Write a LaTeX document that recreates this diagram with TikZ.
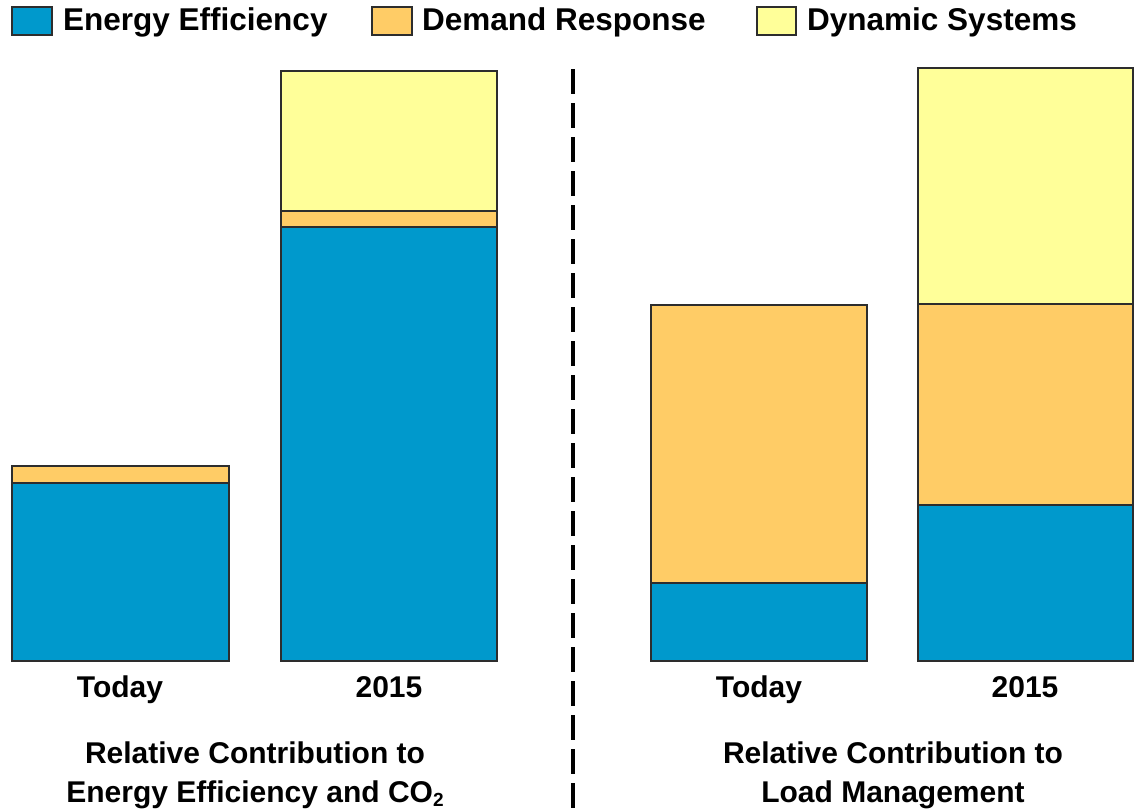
\documentclass[tikz,border=0pt]{standalone}
\usepackage{fontspec}
\setmainfont{Liberation Sans}
\usetikzlibrary{positioning}
\definecolor{effblue}{RGB}{0,153,204}
\definecolor{demorange}{RGB}{255,204,102}
\definecolor{dynyellow}{RGB}{255,255,153}
\definecolor{edgegray}{RGB}{45,45,45}

\begin{document}
\begin{tikzpicture}[x=1pt, y=-1pt, font=\bfseries\fontsize{30}{36}\selectfont,
    seg/.style = {draw=edgegray, line width=1.3pt},
    eff/.style = {seg, fill=effblue},
    dem/.style = {seg, fill=demorange},
    dyn/.style = {seg, fill=dynyellow},
    lbl/.style = {inner sep=0pt, anchor=base},
    key/.style = {inner sep=0pt, anchor=base west, font=\bfseries\fontsize{31.5}{36}\selectfont}
    ]
\useasboundingbox (0,0) rectangle (1135,811);

% legend
\draw[eff] (12,7) rectangle (52,35);
\node[key] (k1) at (63,30) {Energy Efficiency};
\draw[dem] (372,7) rectangle (412,35);
\node[key] (k2) at (422,30) {Demand Response};
\draw[dyn] (757,7) rectangle (796,35);
\node[key] (k3) at (807,30) {Dynamic Systems};

% left chart
\draw[eff] (12,483) rectangle (229,661);
\draw[dem] (12,466) rectangle (229,483);
\draw[eff] (281,227) rectangle (497,661);
\draw[dem] (281,211) rectangle (497,227);
\draw[dyn] (281,71) rectangle (497,211);

% right chart
\draw[eff] (651,583) rectangle (867,661);
\draw[dem] (651,305) rectangle (867,583);
\draw[eff] (918,505) rectangle (1133,661);
\draw[dem] (918,304) rectangle (1133,505);
\draw[dyn] (918,68) rectangle (1133,304);

% separator
\coordinate (top) at (573,69);
\coordinate (bot) at (573,811);
\draw[line width=4pt, dash pattern=on 25pt off 9pt] (top) -- (bot);

% labels
\node[lbl] (t1) at (120,697) {Today};
\node[lbl] (y1) at (389,697) {2015};
\node[lbl] (t2) at (759,697) {Today};
\node[lbl] (y2) at (1025,697) {2015};

\node[lbl] (c1) at (255,763) {Relative Contribution to};
\node[lbl] (c2) at (255,802) {Energy Efficiency and CO\raisebox{-0.3ex}{\fontsize{19}{19}\selectfont 2}};
\node[lbl] (c3) at (893,763) {Relative Contribution to};
\node[lbl] (c4) at (893,802) {Load Management};

\end{tikzpicture}
\end{document}
